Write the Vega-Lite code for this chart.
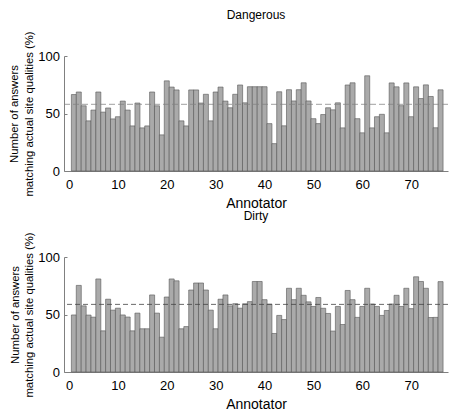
{
  "$schema": "https://vega.github.io/schema/vega-lite/v6.json",
  "padding": {"left": 8, "top": 9, "right": 0, "bottom": 0},
  "spacing": 0,
  "config": {
    "font": "Liberation Sans",
    "view": {"stroke": null},
    "axis": {"grid": false, "domainColor": "#808080", "tickColor": "#808080"}
  },
  "title": {"text": "(a)", "orient": "bottom", "anchor": "middle", "font": "Liberation Serif", "fontSize": 21, "fontWeight": "normal", "color": "#000000", "offset": 21, "dx": 27},
  "datasets": {
    "bars": [
      {"panel": "Dangerous", "annotator": 1, "pct": 66.5}, {"panel": "Dangerous", "annotator": 2, "pct": 68.7}, {"panel": "Dangerous", "annotator": 3, "pct": 56.7}, {"panel": "Dangerous", "annotator": 4, "pct": 43.6}, {"panel": "Dangerous", "annotator": 5, "pct": 53.0}, {"panel": "Dangerous", "annotator": 6, "pct": 68.7}, {"panel": "Dangerous", "annotator": 7, "pct": 51.2}, {"panel": "Dangerous", "annotator": 8, "pct": 54.8}, {"panel": "Dangerous", "annotator": 9, "pct": 45.3}, {"panel": "Dangerous", "annotator": 10, "pct": 47.2},
      {"panel": "Dangerous", "annotator": 11, "pct": 60.8}, {"panel": "Dangerous", "annotator": 12, "pct": 53.0}, {"panel": "Dangerous", "annotator": 13, "pct": 39.2}, {"panel": "Dangerous", "annotator": 14, "pct": 59.1}, {"panel": "Dangerous", "annotator": 15, "pct": 37.5}, {"panel": "Dangerous", "annotator": 16, "pct": 39.2}, {"panel": "Dangerous", "annotator": 17, "pct": 68.7}, {"panel": "Dangerous", "annotator": 18, "pct": 56.7}, {"panel": "Dangerous", "annotator": 19, "pct": 31.4}, {"panel": "Dangerous", "annotator": 20, "pct": 78.4},
      {"panel": "Dangerous", "annotator": 21, "pct": 73.0}, {"panel": "Dangerous", "annotator": 22, "pct": 70.5}, {"panel": "Dangerous", "annotator": 23, "pct": 43.6}, {"panel": "Dangerous", "annotator": 24, "pct": 39.2}, {"panel": "Dangerous", "annotator": 25, "pct": 70.5}, {"panel": "Dangerous", "annotator": 26, "pct": 70.5}, {"panel": "Dangerous", "annotator": 27, "pct": 59.1}, {"panel": "Dangerous", "annotator": 28, "pct": 66.7}, {"panel": "Dangerous", "annotator": 29, "pct": 43.6}, {"panel": "Dangerous", "annotator": 30, "pct": 68.7},
      {"panel": "Dangerous", "annotator": 31, "pct": 73.0}, {"panel": "Dangerous", "annotator": 32, "pct": 60.8}, {"panel": "Dangerous", "annotator": 33, "pct": 55.0}, {"panel": "Dangerous", "annotator": 34, "pct": 66.7}, {"panel": "Dangerous", "annotator": 35, "pct": 74.8}, {"panel": "Dangerous", "annotator": 36, "pct": 59.3}, {"panel": "Dangerous", "annotator": 37, "pct": 73.3}, {"panel": "Dangerous", "annotator": 38, "pct": 73.3}, {"panel": "Dangerous", "annotator": 39, "pct": 73.3}, {"panel": "Dangerous", "annotator": 40, "pct": 73.3},
      {"panel": "Dangerous", "annotator": 41, "pct": 41.2}, {"panel": "Dangerous", "annotator": 42, "pct": 23.8}, {"panel": "Dangerous", "annotator": 43, "pct": 68.9}, {"panel": "Dangerous", "annotator": 44, "pct": 39.3}, {"panel": "Dangerous", "annotator": 45, "pct": 70.7}, {"panel": "Dangerous", "annotator": 46, "pct": 60.9}, {"panel": "Dangerous", "annotator": 47, "pct": 70.7}, {"panel": "Dangerous", "annotator": 48, "pct": 76.7}, {"panel": "Dangerous", "annotator": 49, "pct": 60.9}, {"panel": "Dangerous", "annotator": 50, "pct": 45.5},
      {"panel": "Dangerous", "annotator": 51, "pct": 41.2}, {"panel": "Dangerous", "annotator": 52, "pct": 49.1}, {"panel": "Dangerous", "annotator": 53, "pct": 55.0}, {"panel": "Dangerous", "annotator": 54, "pct": 53.2}, {"panel": "Dangerous", "annotator": 55, "pct": 59.3}, {"panel": "Dangerous", "annotator": 56, "pct": 37.5}, {"panel": "Dangerous", "annotator": 57, "pct": 74.8}, {"panel": "Dangerous", "annotator": 58, "pct": 76.7}, {"panel": "Dangerous", "annotator": 59, "pct": 45.5}, {"panel": "Dangerous", "annotator": 60, "pct": 33.2},
      {"panel": "Dangerous", "annotator": 61, "pct": 82.8}, {"panel": "Dangerous", "annotator": 62, "pct": 37.5}, {"panel": "Dangerous", "annotator": 63, "pct": 47.2}, {"panel": "Dangerous", "annotator": 64, "pct": 49.3}, {"panel": "Dangerous", "annotator": 65, "pct": 33.2}, {"panel": "Dangerous", "annotator": 66, "pct": 76.6}, {"panel": "Dangerous", "annotator": 67, "pct": 73.2}, {"panel": "Dangerous", "annotator": 68, "pct": 56.8}, {"panel": "Dangerous", "annotator": 69, "pct": 76.6}, {"panel": "Dangerous", "annotator": 70, "pct": 47.2},
      {"panel": "Dangerous", "annotator": 71, "pct": 73.2}, {"panel": "Dangerous", "annotator": 72, "pct": 63.0}, {"panel": "Dangerous", "annotator": 73, "pct": 74.9}, {"panel": "Dangerous", "annotator": 74, "pct": 64.8}, {"panel": "Dangerous", "annotator": 75, "pct": 37.6}, {"panel": "Dangerous", "annotator": 76, "pct": 70.6},
      {"panel": "Dirty", "annotator": 1, "pct": 49.6}, {"panel": "Dirty", "annotator": 2, "pct": 75.3}, {"panel": "Dirty", "annotator": 3, "pct": 57.5}, {"panel": "Dirty", "annotator": 4, "pct": 49.5}, {"panel": "Dirty", "annotator": 5, "pct": 47.7}, {"panel": "Dirty", "annotator": 6, "pct": 80.9}, {"panel": "Dirty", "annotator": 7, "pct": 35.8}, {"panel": "Dirty", "annotator": 8, "pct": 63.3}, {"panel": "Dirty", "annotator": 9, "pct": 53.8}, {"panel": "Dirty", "annotator": 10, "pct": 55.5},
      {"panel": "Dirty", "annotator": 11, "pct": 49.6}, {"panel": "Dirty", "annotator": 12, "pct": 47.8}, {"panel": "Dirty", "annotator": 13, "pct": 35.8}, {"panel": "Dirty", "annotator": 14, "pct": 51.2}, {"panel": "Dirty", "annotator": 15, "pct": 37.6}, {"panel": "Dirty", "annotator": 16, "pct": 37.6}, {"panel": "Dirty", "annotator": 17, "pct": 67.0}, {"panel": "Dirty", "annotator": 18, "pct": 51.2}, {"panel": "Dirty", "annotator": 19, "pct": 30.3}, {"panel": "Dirty", "annotator": 20, "pct": 65.2},
      {"panel": "Dirty", "annotator": 21, "pct": 80.9}, {"panel": "Dirty", "annotator": 22, "pct": 79.3}, {"panel": "Dirty", "annotator": 23, "pct": 37.6}, {"panel": "Dirty", "annotator": 24, "pct": 39.5}, {"panel": "Dirty", "annotator": 25, "pct": 71.3}, {"panel": "Dirty", "annotator": 26, "pct": 77.4}, {"panel": "Dirty", "annotator": 27, "pct": 77.4}, {"panel": "Dirty", "annotator": 28, "pct": 71.3}, {"panel": "Dirty", "annotator": 29, "pct": 53.8}, {"panel": "Dirty", "annotator": 30, "pct": 37.6},
      {"panel": "Dirty", "annotator": 31, "pct": 63.3}, {"panel": "Dirty", "annotator": 32, "pct": 67.0}, {"panel": "Dirty", "annotator": 33, "pct": 57.5}, {"panel": "Dirty", "annotator": 34, "pct": 59.4}, {"panel": "Dirty", "annotator": 35, "pct": 55.5}, {"panel": "Dirty", "annotator": 36, "pct": 59.3}, {"panel": "Dirty", "annotator": 37, "pct": 61.2}, {"panel": "Dirty", "annotator": 38, "pct": 78.7}, {"panel": "Dirty", "annotator": 39, "pct": 78.7}, {"panel": "Dirty", "annotator": 40, "pct": 62.9},
      {"panel": "Dirty", "annotator": 41, "pct": 59.0}, {"panel": "Dirty", "annotator": 42, "pct": 33.5}, {"panel": "Dirty", "annotator": 43, "pct": 49.2}, {"panel": "Dirty", "annotator": 44, "pct": 45.6}, {"panel": "Dirty", "annotator": 45, "pct": 72.8}, {"panel": "Dirty", "annotator": 46, "pct": 62.9}, {"panel": "Dirty", "annotator": 47, "pct": 72.8}, {"panel": "Dirty", "annotator": 48, "pct": 66.7}, {"panel": "Dirty", "annotator": 49, "pct": 61.0}, {"panel": "Dirty", "annotator": 50, "pct": 57.0},
      {"panel": "Dirty", "annotator": 51, "pct": 64.8}, {"panel": "Dirty", "annotator": 52, "pct": 55.4}, {"panel": "Dirty", "annotator": 53, "pct": 50.9}, {"panel": "Dirty", "annotator": 54, "pct": 35.6}, {"panel": "Dirty", "annotator": 55, "pct": 57.0}, {"panel": "Dirty", "annotator": 56, "pct": 41.3}, {"panel": "Dirty", "annotator": 57, "pct": 70.9}, {"panel": "Dirty", "annotator": 58, "pct": 62.9}, {"panel": "Dirty", "annotator": 59, "pct": 47.5}, {"panel": "Dirty", "annotator": 60, "pct": 57.0},
      {"panel": "Dirty", "annotator": 61, "pct": 72.8}, {"panel": "Dirty", "annotator": 62, "pct": 59.1}, {"panel": "Dirty", "annotator": 63, "pct": 57.0}, {"panel": "Dirty", "annotator": 64, "pct": 49.2}, {"panel": "Dirty", "annotator": 65, "pct": 53.5}, {"panel": "Dirty", "annotator": 66, "pct": 59.1}, {"panel": "Dirty", "annotator": 67, "pct": 66.7}, {"panel": "Dirty", "annotator": 68, "pct": 57.0}, {"panel": "Dirty", "annotator": 69, "pct": 72.8}, {"panel": "Dirty", "annotator": 70, "pct": 55.1},
      {"panel": "Dirty", "annotator": 71, "pct": 82.8}, {"panel": "Dirty", "annotator": 72, "pct": 78.7}, {"panel": "Dirty", "annotator": 73, "pct": 72.8}, {"panel": "Dirty", "annotator": 74, "pct": 47.4}, {"panel": "Dirty", "annotator": 75, "pct": 47.5}, {"panel": "Dirty", "annotator": 76, "pct": 78.6}
    ],
    "refs": [
      {"panel": "Dangerous", "pct": 57.9},
      {"panel": "Dirty", "pct": 58.8}
    ]
  },
  "vconcat": [
    {
      "width": 384,
      "height": 115,
      "title": {"text": "Dangerous", "frame": "group", "anchor": "middle", "fontSize": 12, "fontWeight": "normal", "color": "#000000", "offset": 8.5},
      "encoding": {
        "y": {"field": "pct", "type": "quantitative", "scale": {"domain": [0, 100], "nice": false},
          "axis": {"title": ["Number of answers", "matching actual site qualities (%)"], "titleAngle": 270, "titleAlign": "center", "titleBaseline": "bottom", "titlePadding": 3.5, "values": [0, 50, 100], "tickSize": -3, "labelFontSize": 13, "labelColor": "#000000", "labelPadding": 7.5, "titleFontSize": 11.3, "titleFontWeight": "normal", "titleColor": "#000000", "titleLineHeight": 14.5}}
      },
      "layer": [
        {
          "data": {"name": "bars"},
          "transform": [{"filter": "datum.panel === 'Dangerous'"}],
          "mark": {"type": "bar", "size": 5.02, "fill": "#aaaaaa", "stroke": "#555555", "strokeWidth": 0.6},
          "encoding": {
            "x": {"field": "annotator", "type": "quantitative", "scale": {"domain": [0, 76.5], "nice": false, "zero": false},
              "axis": {"title": "Annotator", "values": [0, 10, 20, 30, 40, 50, 60, 70], "ticks": false, "labelFontSize": 13, "labelColor": "#000000", "labelPadding": 7, "titleFontSize": 14, "titleFontWeight": "normal", "titleColor": "#000000", "titlePadding": 5}}
          }
        },
        {
          "data": {"name": "refs"},
          "transform": [{"filter": "datum.panel === 'Dangerous'"}],
          "mark": {"type": "rule", "strokeDash": [6, 3], "color": "#808080", "opacity": 0.6, "strokeWidth": 1.3},
          "encoding": {}
        }
      ]
    },
    {
      "width": 384,
      "height": 115,
      "title": {"text": "Dirty", "frame": "group", "anchor": "middle", "fontSize": 12, "fontWeight": "normal", "color": "#000000", "offset": 8.5},
      "encoding": {
        "y": {"field": "pct", "type": "quantitative", "scale": {"domain": [0, 100], "nice": false},
          "axis": {"title": ["Number of answers", "matching actual site qualities (%)"], "titleAngle": 270, "titleAlign": "center", "titleBaseline": "bottom", "titlePadding": 3.5, "values": [0, 50, 100], "tickSize": -3, "labelFontSize": 13, "labelColor": "#000000", "labelPadding": 7.5, "titleFontSize": 11.3, "titleFontWeight": "normal", "titleColor": "#000000", "titleLineHeight": 13.5}}
      },
      "layer": [
        {
          "data": {"name": "bars"},
          "transform": [{"filter": "datum.panel === 'Dirty'"}],
          "mark": {"type": "bar", "size": 5.02, "fill": "#aaaaaa", "stroke": "#555555", "strokeWidth": 0.6},
          "encoding": {
            "x": {"field": "annotator", "type": "quantitative", "scale": {"domain": [0, 76.5], "nice": false, "zero": false},
              "axis": {"title": "Annotator", "values": [0, 10, 20, 30, 40, 50, 60, 70], "ticks": false, "labelFontSize": 13, "labelColor": "#000000", "labelPadding": 7, "titleFontSize": 14, "titleFontWeight": "normal", "titleColor": "#000000", "titlePadding": 5}}
          }
        },
        {
          "data": {"name": "refs"},
          "transform": [{"filter": "datum.panel === 'Dirty'"}],
          "mark": {"type": "rule", "strokeDash": [5, 3], "color": "#444444", "strokeWidth": 0.8},
          "encoding": {}
        }
      ]
    }
  ]
}
